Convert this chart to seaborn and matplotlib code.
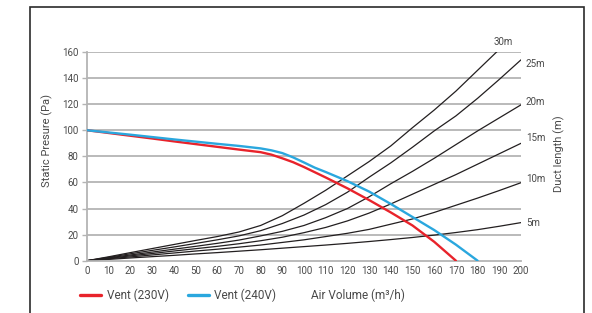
import numpy as np
import pandas as pd
import matplotlib
matplotlib.use("Agg")
import matplotlib.pyplot as plt
import seaborn as sns
from matplotlib.patches import Rectangle

# fan curves: air volume (m3/h) -> static pressure (Pa)
vent_230_q = [0, 10, 20, 30, 40, 50, 60, 70, 80, 85, 90, 95, 100, 105, 110,
              120, 130, 140, 150, 160, 170]
vent_230_p = [100, 97.9, 95.8, 93.7, 91.5, 89.4, 87.3, 85.2, 83.2, 81.3, 78.5,
              75.5, 71.8, 67.8, 63.8, 55.5, 46.5, 37, 27, 14.5, 0]

vent_240_q = [0, 10, 20, 30, 40, 50, 60, 70, 80, 85, 90, 95, 100, 105, 110,
              120, 130, 140, 150, 160, 170, 180]
vent_240_p = [100, 98.3, 96.6, 94.8, 93, 91.3, 89.6, 88, 86.1, 84.6, 82.5, 79.2,
              75.3, 71.3, 68, 61, 53, 43.5, 33.5, 23.5, 12.3, 0]

# duct resistance curves
duct_q = list(range(0, 201, 10))
duct_5m = [0, 1, 2.1, 3.1, 4.1, 5.2, 6.2, 7.3, 8.4, 9.6, 10.8, 12, 13.3, 14.7,
           16.2, 17.8, 19.6, 21.6, 23.8, 26.4, 29.2]
duct_10m = [0, 1.5, 2.9, 4.4, 5.9, 7.4, 8.8, 10.4, 12, 14, 16, 18.5, 21, 24,
            28, 32, 37, 42.5, 48, 53.8, 59.8]
duct_15m = [0, 1.8, 3.7, 5.5, 7.4, 9.2, 11, 13, 15.3, 18, 21.5, 25.5, 30.5,
            36.5, 43.5, 51, 58.5, 66, 74, 82, 90]
duct_20m = [0, 2.2, 4.4, 6.6, 8.8, 11, 13.3, 15.8, 19, 22.5, 27, 33, 40, 49,
            59, 68.5, 78.5, 89, 99.5, 109.5, 119.5]
duct_25m = [0, 2.6, 5.3, 7.9, 10.5, 13.2, 16, 19, 23, 28.5, 35, 43, 52.5, 64,
            75, 87, 99.5, 111, 124.5, 139, 154]
duct_30m = [0, 3, 6.2, 9.3, 12.4, 15.5, 18.5, 22, 27, 34.5, 44, 54, 65, 76,
            88, 102, 115.5, 130, 146, 162, 178]

duct_names = ["5m", "10m", "15m", "20m", "25m", "30m"]
duct_values = [duct_5m, duct_10m, duct_15m, duct_20m, duct_25m, duct_30m]
# vertical nudge of each duct label from its line end (Pa)
label_nudge = {"5m": 0, "10m": 3, "15m": 4, "20m": 2, "25m": -3}

x_ticks = list(range(0, 201, 10))
y_ticks = list(range(0, 161, 20))

RED = "#e8232b"
BLUE = "#2aa7de"
DUCT = "#231f20"
GRID = "#b4b4b4"
TEXT = "#4a4a4a"

sns.set_theme(style="white")
plt.rcParams["font.family"] = ["Roboto", "DejaVu Sans"]

fig = plt.figure(figsize=(5.92, 3.13), dpi=100)
ax = fig.add_axes([87 / 592, 1 - 260.7 / 313, 434 / 592, 208.7 / 313])

# outer frame
fig.patches.append(Rectangle((30 / 592, -0.2), 554 / 592, 1.2 - 7 / 313,
                             transform=fig.transFigure, fill=False,
                             edgecolor="#2b2b2b", linewidth=1.2))

for y in y_ticks[1:]:
    ax.axhline(y, color=GRID, linewidth=1.3, zorder=0)

for name, vals in zip(duct_names, duct_values):
    sns.lineplot(x=duct_q, y=vals, color=DUCT, linewidth=0.9, ax=ax,
                 legend=False, zorder=2)
    if name == "30m":
        ax.text(191.6, 167.5, name, fontsize=7, color=TEXT, ha="center",
                va="center", clip_on=False)
    else:
        ax.text(202.2, vals[-1] + label_nudge[name], name, fontsize=7,
                color=TEXT, ha="left", va="center", clip_on=False)

sns.lineplot(x=vent_230_q, y=vent_230_p, color=RED, linewidth=1.7, ax=ax,
             legend=False, zorder=3)
sns.lineplot(x=vent_240_q, y=vent_240_p, color=BLUE, linewidth=1.7, ax=ax,
             legend=False, zorder=3)

ax.set_xlim(0, 200)
ax.set_ylim(0, 160)
ax.set_xticks(x_ticks)
ax.set_yticks(y_ticks)
ax.tick_params(axis="x", length=0, pad=4, labelsize=7, labelcolor=TEXT)
ax.tick_params(axis="y", length=3.5, width=1, color=GRID, pad=2.5,
               labelsize=7, labelcolor=TEXT, left=True)

for side in ["top", "right"]:
    ax.spines[side].set_visible(False)
for side in ["left", "bottom"]:
    ax.spines[side].set_color(GRID)
    ax.spines[side].set_linewidth(1.3)

ax.set_ylabel("Static Presure (Pa)", fontsize=8, color=TEXT)
ax.yaxis.set_label_coords(-0.078, 0.578)
ax.text(1.0876, 0.515, "Duct length (m)", transform=ax.transAxes, rotation=90,
        fontsize=8, color=TEXT, ha="center", va="center")

ax.set_xlabel("Air Volume (m³/h)", fontsize=8.5, color=TEXT, va="center")
ax.xaxis.set_label_coords(0.625, -0.165)

handles = [plt.Line2D([], [], color=RED, linewidth=2.4),
           plt.Line2D([], [], color=BLUE, linewidth=2.4)]
ax.legend(handles, ["Vent (230V)", "Vent (240V)"], loc="center left",
          bbox_to_anchor=(-0.016, -0.165), ncol=2, frameon=False,
          fontsize=8.5, handlelength=1.8, handletextpad=0.45,
          columnspacing=1.6, borderpad=0, borderaxespad=0,
          labelcolor=TEXT)

fig.savefig("out.png", dpi=100, facecolor="white")
plt.close(fig)
